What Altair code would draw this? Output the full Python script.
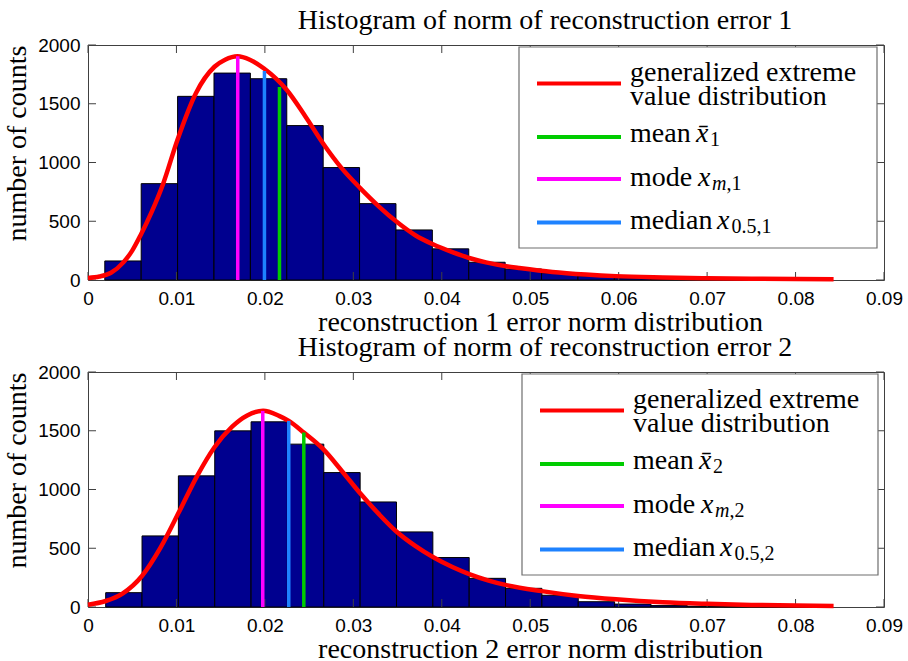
import altair as alt
import pandas as pd

# ---------------- data: reconstruction error 1 ----------------
range_1 = [0.0019, 0.0842]  # min / max of the error norms (20 equal bins)
counts_1 = [162, 820, 1563, 1761, 1713, 1314, 957, 650, 426, 265,
            151, 94, 60, 35, 18, 9, 5, 3, 1, 1]
gev_x_1 = [0.0000, 0.0013, 0.0026, 0.0040, 0.0050, 0.0060, 0.0072, 0.0085, 0.0101,
           0.0122, 0.0143, 0.0155, 0.0169, 0.0183, 0.0199, 0.0225, 0.0246, 0.0266,
           0.0287, 0.0308, 0.0329, 0.0349, 0.0370, 0.0390, 0.0412, 0.0432, 0.0450,
           0.0473, 0.0487, 0.0525, 0.0563, 0.0597, 0.0650, 0.0700, 0.0750, 0.0800,
           0.0843]
gev_y_1 = [18, 30, 62, 150, 250, 390, 580, 820, 1190,
           1590, 1815, 1875, 1905, 1875, 1800, 1615, 1390, 1160,
           950, 780, 625, 495, 381, 304, 237, 185, 150,
           117, 103, 69, 47, 33, 22, 15, 11, 8,
           6]
stat_x_1 = [0.02165, 0.01693, 0.01995]   # mean, mode, median
stat_y_1 = [1642, 1905, 1778]

# ---------------- data: reconstruction error 2 ----------------
range_2 = [0.0020, 0.0842]
counts_2 = [122, 605, 1116, 1499, 1576, 1386, 1144, 894, 639, 421,
            244, 159, 100, 45, 25, 12, 6, 3, 1, 1]
gev_x_2 = [0.0000, 0.0020, 0.0039, 0.0061, 0.0082, 0.0103, 0.0123, 0.0143, 0.0163,
           0.0180, 0.0198, 0.0216, 0.0227, 0.0244, 0.0266, 0.0287, 0.0307, 0.0329,
           0.0348, 0.0370, 0.0390, 0.0412, 0.0431, 0.0453, 0.0472, 0.0513, 0.0554,
           0.0597, 0.0650, 0.0700, 0.0750, 0.0800, 0.0843]
gev_y_2 = [20, 51, 114, 264, 505, 810, 1110, 1360, 1535,
           1630, 1670, 1627, 1584, 1485, 1343, 1158, 974, 790,
           647, 520, 425, 340, 280, 225, 188, 135, 94,
           65, 40, 27, 18, 12, 9]
stat_x_2 = [0.0244, 0.01976, 0.0227]
stat_y_2 = [1485, 1669, 1584]

stat_names = ["mean", "mode", "median"]
x_ticks = [0, 0.01, 0.02, 0.03, 0.04, 0.05, 0.06, 0.07, 0.08, 0.09]
y_ticks = [0, 500, 1000, 1500, 2000]

# ---------------- styling ----------------
W, H = 796, 235
TICK = 8
NAVY = "#00008F"
RED = "#FF0000"
STAT_COLORS = ["#00CC00", "#FF00FF", "#1E82FF"]
AXIS_COLOR = "#404040"
SERIF = "Liberation Serif"
SANS = "Liberation Sans"
FS = 28      # text size
FS_SUB = 20  # subscript size

x_scale = alt.Scale(domain=[0, 0.09], nice=False, zero=False)
y_scale = alt.Scale(domain=[0, 2000], nice=False)


def text(s, x, y, size=FS, style="normal", align="left"):
    return alt.Chart(pd.DataFrame({"k": [0]})).mark_text(
        align=align, baseline="alphabetic", font=SERIF, fontSize=size,
        fontStyle=style, color="black"
    ).encode(x=alt.value(x), y=alt.value(y), text=alt.value(s))


def panel(k, rng, counts, gx, gy, sx, sy, box_left, box_right):
    n = len(counts)
    w = (rng[1] - rng[0]) / n
    edges = [rng[0] + i * w for i in range(n + 1)]
    hist = pd.DataFrame({"lo": edges[:-1], "hi": edges[1:], "count": counts})

    x_axis = alt.Axis(
        values=x_ticks, format="~g", ticks=False, domain=False, grid=False,
        labelFont=SANS, labelFontSize=19, labelColor="black", labelPadding=9,
        labelFlush=False,
        title=f"reconstruction {k} error norm distribution",
        titleFont=SERIF, titleFontSize=FS, titleFontWeight="normal",
        titleColor="black", titleX=452, titleY=50,
        titleBaseline="alphabetic", titleAlign="center",
    )
    y_axis = alt.Axis(
        values=y_ticks, format="d", ticks=False, domain=False, grid=False,
        labelFont=SANS, labelFontSize=19, labelColor="black", labelPadding=8,
        title="number of counts", titleFont=SERIF, titleFontSize=FS,
        titleFontWeight="normal", titleColor="black",
        titleX=-63, titleY=98, titleAngle=270,
        titleBaseline="alphabetic", titleAlign="center",
    )

    def X(field):
        return alt.X(field, scale=x_scale, axis=x_axis)

    def Y(field):
        return alt.Y(field, scale=y_scale, axis=y_axis)

    # inward tick marks on all four sides
    tx = pd.DataFrame({"t": x_ticks})
    ty = pd.DataFrame({"t": y_ticks})
    rule = dict(color=AXIS_COLOR, strokeWidth=1)
    ticks = [
        alt.Chart(tx).mark_rule(**rule).encode(x=X("t:Q"), y=alt.value(0), y2=alt.value(TICK)),
        alt.Chart(tx).mark_rule(**rule).encode(x=X("t:Q"), y=alt.value(H), y2=alt.value(H - TICK)),
        alt.Chart(ty).mark_rule(**rule).encode(y=Y("t:Q"), x=alt.value(0), x2=alt.value(TICK)),
        alt.Chart(ty).mark_rule(**rule).encode(y=Y("t:Q"), x=alt.value(W), x2=alt.value(W - TICK)),
    ]

    bars = alt.Chart(hist).mark_rect(fill=NAVY, stroke="black", strokeWidth=1).encode(
        x=X("lo:Q"), x2="hi:Q", y=Y("count:Q"), y2=alt.datum(0),
    )

    curve = alt.Chart(pd.DataFrame({"x": gx, "y": gy})).mark_line(
        color=RED, strokeWidth=4.5, interpolate="monotone"
    ).encode(x=X("x:Q"), y=Y("y:Q"))

    stats = alt.Chart(pd.DataFrame({"name": stat_names, "x": sx, "top": sy})).mark_rule(
        strokeWidth=3.5
    ).encode(
        x=X("x:Q"), y=Y("top:Q"), y2=alt.datum(0),
        color=alt.Color("name:N", scale=alt.Scale(domain=stat_names, range=STAT_COLORS),
                        legend=None),
    )

    # panel title above the frame
    title = text(f"Histogram of norm of reconstruction error {k}", 457, -15.6, align="center")

    # legend box
    one = pd.DataFrame({"k": [0]})
    box = alt.Chart(one).mark_rect(fill="white", stroke="#6e6e6e", strokeWidth=1.2).encode(
        x=alt.value(box_left), x2=alt.value(box_right), y=alt.value(2), y2=alt.value(203))
    lx0, lx1, tx0 = box_left + 18, box_left + 102, box_left + 111
    line_y = [38.5, 92, 134, 177.5]
    line_c = [RED] + STAT_COLORS
    keys = [
        alt.Chart(one).mark_rule(color=c, strokeWidth=4).encode(
            x=alt.value(lx0), x2=alt.value(lx1), y=alt.value(ly))
        for c, ly in zip(line_c, line_y)
    ]
    labels = [
        text("generalized extreme", tx0, 36),
        text(" value distribution", tx0, 60),
        text("mean", tx0, 97),
        text("x\u0304", tx0 + 66, 97, style="italic"),
        text(str(k), tx0 + 80, 101, size=FS_SUB),
        text("mode", tx0, 140.5),
        text("x", tx0 + 68, 140.5, style="italic"),
        text("m", tx0 + 82, 144.5, size=FS_SUB, style="italic"),
        text(f",{k}", tx0 + 96.5, 144.5, size=FS_SUB),
        text("median", tx0, 183.5),
        text("x", tx0 + 87, 183.5, style="italic"),
        text(f"0.5,{k}", tx0 + 101.5, 187.5, size=FS_SUB),
    ]

    return alt.layer(bars, *ticks, curve, stats, title, box, *keys, *labels).properties(
        width=W, height=H,
    )


top = panel(1, range_1, counts_1, gev_x_1, gev_y_1, stat_x_1, stat_y_1, 431, 789)
bottom = panel(2, range_2, counts_2, gev_x_2, gev_y_2, stat_x_2, stat_y_2, 434, 790)

chart = alt.vconcat(top, bottom, spacing=-4).properties(
    padding={"left": 2, "top": 6, "right": 5, "bottom": 0},
    background="white",
).configure_view(stroke=AXIS_COLOR, strokeWidth=1)

chart.save("out.html", embed_options={"renderer": "svg", "actions": False})
